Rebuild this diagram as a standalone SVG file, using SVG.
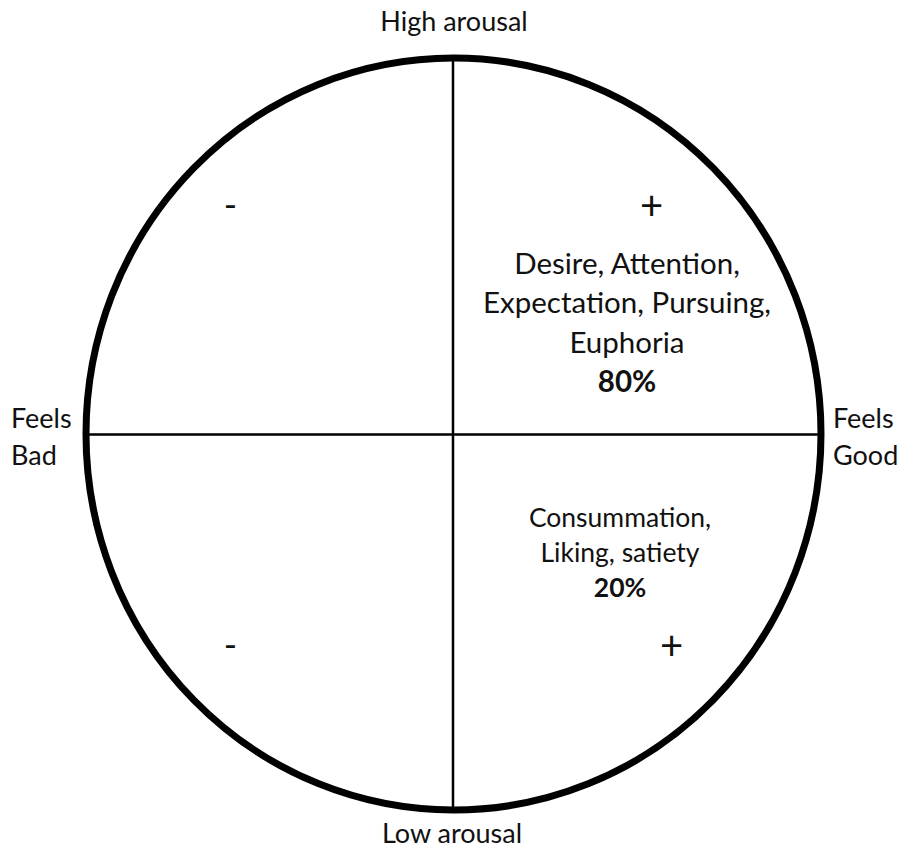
<svg xmlns="http://www.w3.org/2000/svg" width="901" height="849" viewBox="0 0 901 849">
<style>
text{font-family:Lato,"Open Sans","Liberation Sans",sans-serif;fill:#111}
.ax{font-size:27px}
.q1{font-size:29.5px;text-anchor:middle}
.q2{font-size:26.5px;text-anchor:middle}
.b{font-weight:bold}
.sg{font-size:40px;text-anchor:middle}
.mn{font-size:36px;text-anchor:middle}
</style>
<rect width="901" height="849" fill="#fff"/>
<g id="connectors" stroke="#000" fill="none">
<line x1="453" y1="58" x2="453" y2="810" stroke-width="2.5"/>
<line x1="86" y1="434.5" x2="821" y2="434.5" stroke-width="2.5"/>
</g>
<g id="circle">
<ellipse cx="453.5" cy="434" rx="367.5" ry="376" fill="none" stroke="#000" stroke-width="7"/>
</g>
<g id="axis-labels">
<text class="ax" x="454" y="31" text-anchor="middle">High arousal</text>
<text class="ax" x="452" y="843" text-anchor="middle">Low arousal</text>
<text class="ax" x="11" y="428">Feels</text>
<text class="ax" x="11" y="465">Bad</text>
<text class="ax" x="833" y="428">Feels</text>
<text class="ax" x="833" y="465">Good</text>
</g>
<g id="q-top-right">
<text class="sg" x="651.5" y="220">+</text>
<text class="q1" x="627" y="274">Desire, Attention,</text>
<text class="q1" x="627" y="313">Expectation, Pursuing,</text>
<text class="q1" x="627" y="353">Euphoria</text>
<text class="q1 b" x="627" y="392">80%</text>
</g>
<g id="q-bottom-right">
<text class="q2" x="620" y="527">Consummation,</text>
<text class="q2" x="620" y="562">Liking, satiety</text>
<text class="q2 b" x="620" y="597">20%</text>
<text class="sg" x="671.5" y="660">+</text>
</g>
<g id="q-left">
<text class="mn" x="230.5" y="218">-</text>
<text class="mn" x="230.5" y="658">-</text>
</g>
</svg>
